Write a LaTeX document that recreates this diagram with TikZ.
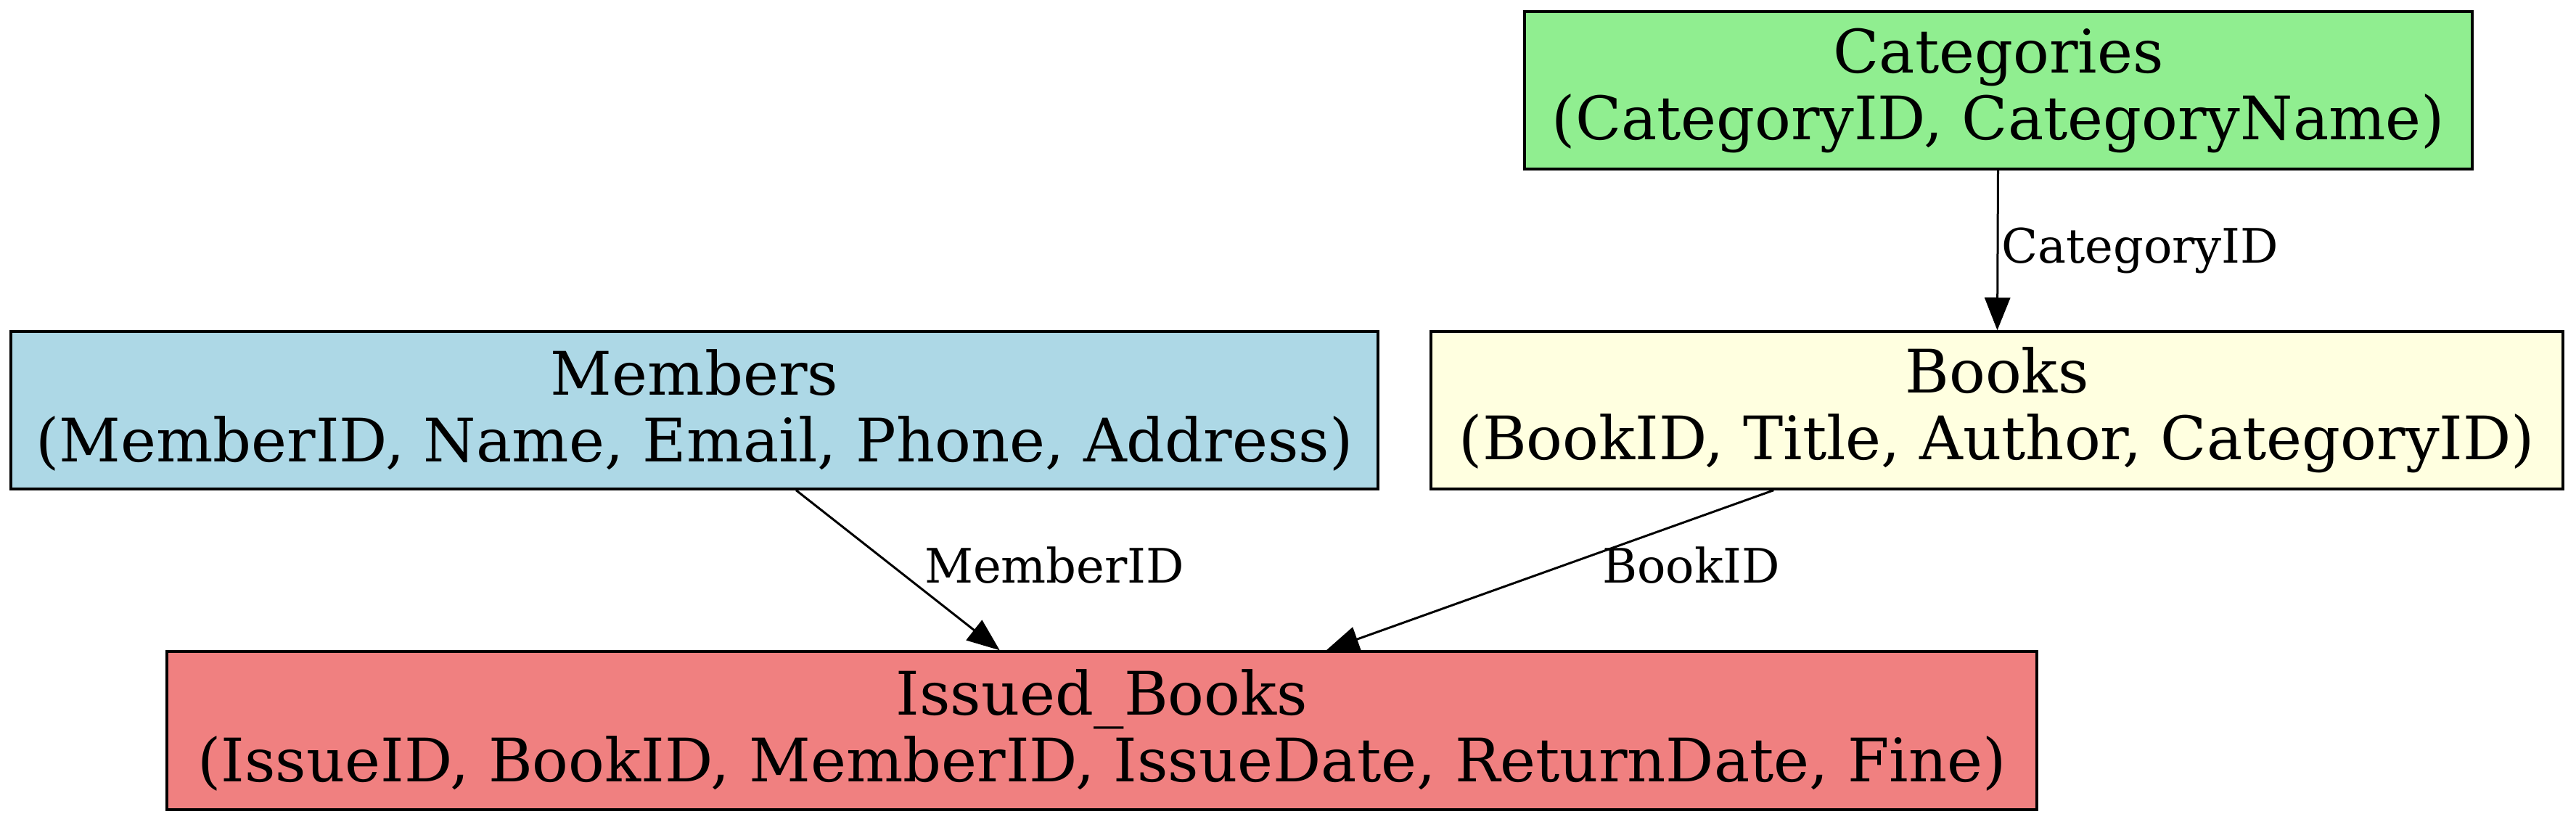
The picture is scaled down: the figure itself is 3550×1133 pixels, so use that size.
\documentclass[tikz,border=0pt]{standalone}
\usepackage{fontspec}
\setmainfont{DejaVu Serif}
\usetikzlibrary{arrows.meta}
\definecolor{catgreen}{HTML}{90EE90}
\definecolor{memblue}{HTML}{ADD8E6}
\definecolor{bookyellow}{HTML}{FFFFE0}
\definecolor{isscoral}{HTML}{F08080}
\tikzset{
  entity/.style={draw=black, line width=0.7pt, rectangle, inner sep=0pt,
    align=center, font=\fontsize{16.55pt}{18.4pt}\selectfont},
  fk/.style={draw=black, line width=0.6pt, -{Triangle[length=9pt,width=7pt]}},
  fklabel/.style={anchor=base west, inner sep=0pt, font=\fontsize{13.1pt}{15pt}\selectfont}
}
\begin{document}
\begin{tikzpicture}[x=0.2pt, y=-0.2pt]
\useasboundingbox (0,0) rectangle (3550,1133);
\node[entity, fill=catgreen, minimum width=1306*0.2pt, minimum height=217*0.2pt] (cat) at (2754,124.5)
  {Categories\\(CategoryID, CategoryName)};
\node[entity, fill=memblue, minimum width=1884*0.2pt, minimum height=217*0.2pt] (mem) at (957,565.5)
  {Members\\(MemberID, Name, Email, Phone, Address)};
\node[entity, fill=bookyellow, minimum width=1560*0.2pt, minimum height=217*0.2pt] (book) at (2752,565.5)
  {Books\\(BookID, Title, Author, CategoryID)};
\node[entity, fill=isscoral, minimum width=2577*0.2pt, minimum height=218*0.2pt] (iss) at (1518.5,1007)
  {Issued\_Books\\(IssueID, BookID, MemberID, IssueDate, ReturnDate, Fine)};
\draw[fk] (cat) -- (book);
\draw[fk] (mem) -- (iss);
\draw[fk] (book) -- (iss);
\node[fklabel] (lcat) at (2757,362) {CategoryID};
\node[fklabel] (lmem) at (1273,803) {MemberID};
\node[fklabel] (lbook) at (2207,803) {BookID};
\end{tikzpicture}
\end{document}
